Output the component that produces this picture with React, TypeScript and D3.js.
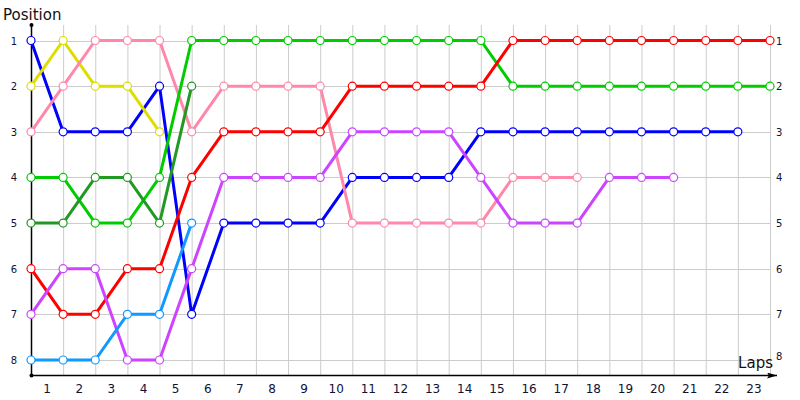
import React, { useEffect, useRef } from 'react';
import * as d3 from 'd3';

// positions per lap boundary, starting at lap 0 (grid)
const laps = d3.range(1, 24);
const positions = [1, 2, 3, 4, 5, 6, 7, 8];

const blue = [1, 3, 3, 3, 2, 7, 5, 5, 5, 5, 4, 4, 4, 4, 3, 3, 3, 3, 3, 3, 3, 3, 3];
const yellow = [2, 1, 2, 2, 3];
const pink = [3, 2, 1, 1, 1, 3, 2, 2, 2, 2, 5, 5, 5, 5, 5, 4, 4, 4];
const green = [4, 4, 5, 5, 4, 1, 1, 1, 1, 1, 1, 1, 1, 1, 1, 2, 2, 2, 2, 2, 2, 2, 2, 2];
const darkGreen = [5, 5, 4, 4, 5, 2];
const red = [6, 7, 7, 6, 6, 4, 3, 3, 3, 3, 2, 2, 2, 2, 2, 1, 1, 1, 1, 1, 1, 1, 1, 1];
const purple = [7, 6, 6, 8, 8, 6, 4, 4, 4, 4, 3, 3, 3, 3, 4, 5, 5, 5, 4, 4, 4];
const lightBlue = [8, 8, 8, 7, 7, 5];

const series = [
  { values: blue, color: '#0000ff' },
  { values: yellow, color: '#dddd00' },
  { values: pink, color: '#ff88aa' },
  { values: green, color: '#00cc00' },
  { values: darkGreen, color: '#229922' },
  { values: red, color: '#ff0000' },
  { values: purple, color: '#cc44ff' },
  { values: lightBlue, color: '#1199ff' },
];

const width = 800;
const height = 400;

export default function App() {
  const svgRef = useRef<SVGSVGElement>(null);

  useEffect(() => {
    if (!svgRef.current) return;
    const svg = d3.select(svgRef.current);
    svg.selectAll('*').remove();

    const font = '"DejaVu Sans", Verdana, sans-serif';

    const x = d3.scaleLinear().domain([0, 23]).range([31, 770]);
    const y = d3.scaleLinear().domain([1, 8]).range([40.5, 360]);
    const axisY = 375;

    // grid
    const grid = svg.append('g').attr('stroke', '#cccccc').attr('stroke-width', 1);
    grid.selectAll('line.v')
      .data(laps)
      .join('line')
      .attr('class', 'v')
      .attr('x1', d => x(d) + 0.5)
      .attr('x2', d => x(d) + 0.5)
      .attr('y1', 25)
      .attr('y2', axisY);
    grid.selectAll('line.h')
      .data(positions)
      .join('line')
      .attr('class', 'h')
      .attr('x1', x(0))
      .attr('x2', x(23))
      .attr('y1', d => Math.round(y(d)) + 0.5)
      .attr('y2', d => Math.round(y(d)) + 0.5);

    // axes
    svg.append('defs').append('marker')
      .attr('id', 'arrow')
      .attr('viewBox', '0 0 10 6')
      .attr('refX', 10)
      .attr('refY', 3)
      .attr('markerWidth', 10)
      .attr('markerHeight', 6)
      .attr('markerUnits', 'userSpaceOnUse')
      .attr('orient', 'auto')
      .append('path')
      .attr('d', 'M0,0 L10,3 L0,6 L2,3 Z')
      .attr('fill', '#000');

    svg.append('line')
      .attr('x1', x(0) + 0.5).attr('x2', x(0) + 0.5)
      .attr('y1', 25).attr('y2', axisY)
      .attr('stroke', '#000').attr('stroke-width', 1.5);
    svg.append('line')
      .attr('x1', x(0)).attr('x2', 777)
      .attr('y1', axisY + 0.5).attr('y2', axisY + 0.5)
      .attr('stroke', '#000').attr('stroke-width', 1.5)
      .attr('marker-end', 'url(#arrow)');
    svg.append('circle').attr('cx', x(0) + 0.5).attr('cy', 25).attr('r', 2).attr('fill', '#000');
    svg.append('circle').attr('cx', x(0) + 0.5).attr('cy', axisY + 0.5).attr('r', 2).attr('fill', '#000');

    // tick labels
    svg.append('g')
      .selectAll('text')
      .data(laps)
      .join('text')
      .attr('x', d => x(d - 0.5))
      .attr('y', 393)
      .attr('text-anchor', 'middle')
      .attr('font-family', font)
      .attr('font-size', 12)
      .attr('fill', '#111133')
      .text(d => d);

    svg.append('g')
      .selectAll('text')
      .data(positions)
      .join('text')
      .attr('x', 14)
      .attr('y', d => y(d) + 4)
      .attr('text-anchor', 'middle')
      .attr('font-family', font)
      .attr('font-size', 10)
      .attr('fill', '#111133')
      .text(d => d);

    svg.append('g')
      .selectAll('text')
      .data(positions)
      .join('text')
      .attr('x', 776)
      .attr('y', d => (d === 8 ? y(d) : y(d) + 4))
      .attr('font-family', font)
      .attr('font-size', 10)
      .attr('fill', '#111133')
      .text(d => d);

    svg.append('text')
      .attr('x', 3).attr('y', 20)
      .attr('font-family', font).attr('font-size', 15)
      .attr('fill', '#111')
      .text('Position');
    svg.append('text')
      .attr('x', 773).attr('y', 368)
      .attr('text-anchor', 'end')
      .attr('font-family', font).attr('font-size', 15)
      .attr('fill', '#111')
      .text('Laps');

    // series
    const line = d3.line<number>()
      .x((_, i) => x(i))
      .y(d => y(d));

    series.forEach(s => {
      const g = svg.append('g');
      g.append('path')
        .datum(s.values)
        .attr('fill', 'none')
        .attr('stroke', s.color)
        .attr('stroke-width', 3)
        .attr('stroke-linejoin', 'round')
        .attr('d', line);
      g.selectAll('circle')
        .data(s.values)
        .join('circle')
        .attr('cx', (_, i) => x(i))
        .attr('cy', d => y(d))
        .attr('r', 4)
        .attr('fill', '#fff')
        .attr('stroke', s.color)
        .attr('stroke-width', 1.2);
    });
  }, []);

  return (
    <svg
      ref={svgRef}
      width={width}
      height={height}
      style={{ position: 'absolute', left: 0, top: 0, background: '#fff' }}
    />
  );
}
